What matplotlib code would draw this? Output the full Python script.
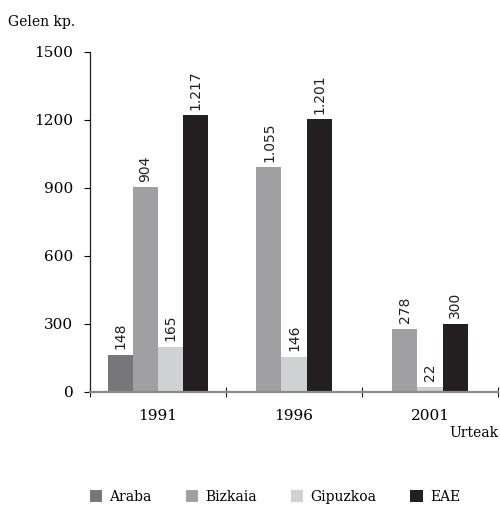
import numpy as np
import matplotlib
matplotlib.use("Agg")
import matplotlib.pyplot as plt
from matplotlib.patches import Patch

years = ["1991", "1996", "2001"]
series = ["Araba", "Bizkaia", "Gipuzkoa", "EAE"]
colors = ["#77777a", "#a0a0a3", "#d0d1d3", "#231f20"]

# bar heights as drawn, and the printed labels (they differ in places)
araba = [163, None, None]
bizkaia = [904, 992, 278]
gipuzkoa = [200, 156, 22]
eae = [1220, 1204, 302]
araba_lbl = ["148", "", ""]
bizkaia_lbl = ["904", "1.055", "278"]
gipuzkoa_lbl = ["165", "146", "22"]
eae_lbl = ["1.217", "1.201", "300"]

heights = [araba, bizkaia, gipuzkoa, eae]
labels = [araba_lbl, bizkaia_lbl, gipuzkoa_lbl, eae_lbl]

SERIF = "DejaVu Serif"
plt.rcParams["font.family"] = SERIF

fig = plt.figure(figsize=(5.0, 5.05), dpi=100)
ax = fig.add_axes([0.18, 0.2238, 0.816, 0.6733])

width = 0.184
for i, yr in enumerate(years):
    present = [k for k in range(4) if heights[k][i] is not None]
    n = len(present)
    for j, k in enumerate(present):
        x = i + (j - (n - 1) / 2) * width
        h = heights[k][i]
        ax.bar(x, h, width=width, color=colors[k], linewidth=0)
        ax.annotate(labels[k][i], xy=(x, h), xytext=(0, 4),
                    textcoords="offset points", rotation=90,
                    ha="center", va="bottom", fontsize=10,
                    family="DejaVu Sans", color="#231f20")

ax.set_xlim(-0.5, 2.5)
ax.set_ylim(0, 1500)
ax.set_yticks([0, 300, 600, 900, 1200, 1500])
ax.set_xticks(range(3))
ax.set_xticklabels(years, fontsize=11)
ax.set_xticks([-0.5, 0.5, 1.5, 2.5], minor=True)
ax.tick_params(axis="x", which="major", length=0, pad=12)
ax.tick_params(axis="x", which="minor", length=7, direction="inout",
               color="#231f20", width=0.8)
ax.tick_params(axis="y", length=4, width=0.8, pad=8, labelsize=11)

for s in ["top", "right"]:
    ax.spines[s].set_visible(False)
ax.spines["left"].set_color("#231f20")
ax.spines["left"].set_linewidth(0.9)
ax.spines["bottom"].set_color("#8a8a8c")
ax.spines["bottom"].set_linewidth(1.6)

fig.text(8 / 500, 1 - 22 / 505, "Gelen kp.", fontsize=10, va="center", ha="left")
fig.text(498 / 500, 1 - 433 / 505, "Urteak", fontsize=10, va="center", ha="right")

handles = [Patch(facecolor=c, edgecolor="none", label=s) for s, c in zip(series, colors)]
fig.legend(handles=handles, loc="center", bbox_to_anchor=(0.55, 1 - 497 / 505),
           ncol=4, frameon=False, fontsize=10, handlelength=0.9, handleheight=0.9,
           handletextpad=0.5, columnspacing=2.45)

fig.savefig("out.png", dpi=100, facecolor="white")
